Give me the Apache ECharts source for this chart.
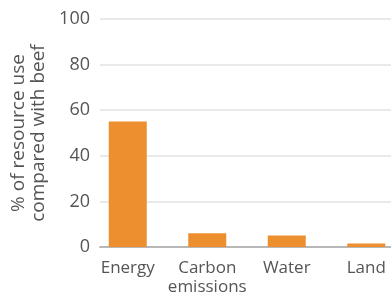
<!DOCTYPE html>
<html lang="en">
<head>
    <meta charset="UTF-8">
    <title>chart</title>
    <script src="https://cdn.jsdelivr.net/npm/echarts@6/dist/echarts.min.js"></script>
    <style>
        html, body { margin: 0; height: 100%; background: #fff; }
        #app { width: 391px; height: 292px; }
    </style>
</head>
<body>
<div id="app"></div>
<script>
    var categories = ['Energy', 'Carbon\nemissions', 'Water', 'Land']
    var values = [55, 6, 5, 1.5]
    var yTicks = [0, 20, 40, 60, 80, 100]
    var yName = '% of resource use\ncompared with beef'

    var font = '"Open Sans", sans-serif'
    var myChart = echarts.init(document.getElementById('app'))
    var option = {
        animation: false,
        grid: [
            // axis + gridlines
            {left: 100, width: 310, top: 19, bottom: 45, outerBoundsMode: 'none'},
            // bars
            {left: 88, width: 318, top: 19, bottom: 45, outerBoundsMode: 'none'}
        ],
        xAxis: [
            {
                gridIndex: 0, type: 'value', min: 0, max: 1,
                axisLabel: {show: false}, axisTick: {show: false}, splitLine: {show: false},
                axisLine: {show: true, lineStyle: {color: '#b8b8b8', width: 2}}
            },
            {
                gridIndex: 1, type: 'category', data: categories,
                axisLine: {show: false}, axisTick: {show: false},
                axisLabel: {interval: 0, color: '#555', fontSize: 17, fontFamily: font, margin: 12, lineHeight: 19}
            }
        ],
        yAxis: [
            {
                gridIndex: 0, type: 'value', min: yTicks[0], max: yTicks[yTicks.length - 1], interval: 20,
                name: yName, nameLocation: 'middle', nameGap: 39,
                nameTextStyle: {color: '#555', fontSize: 19, fontFamily: font, lineHeight: 20},
                axisLine: {show: false}, axisTick: {show: false},
                axisLabel: {color: '#555', fontSize: 18, fontFamily: font, margin: 10},
                splitLine: {lineStyle: {color: '#e2e2e2', width: 1.5}}
            },
            {
                gridIndex: 1, type: 'value', min: yTicks[0], max: yTicks[yTicks.length - 1], show: false
            }
        ],
        series: [
            {
                type: 'bar', xAxisIndex: 1, yAxisIndex: 1,
                data: values, barWidth: 38,
                itemStyle: {color: '#ee8f2f'}
            }
        ]
    }
    myChart.setOption(option)
</script>
</body>
</html>
